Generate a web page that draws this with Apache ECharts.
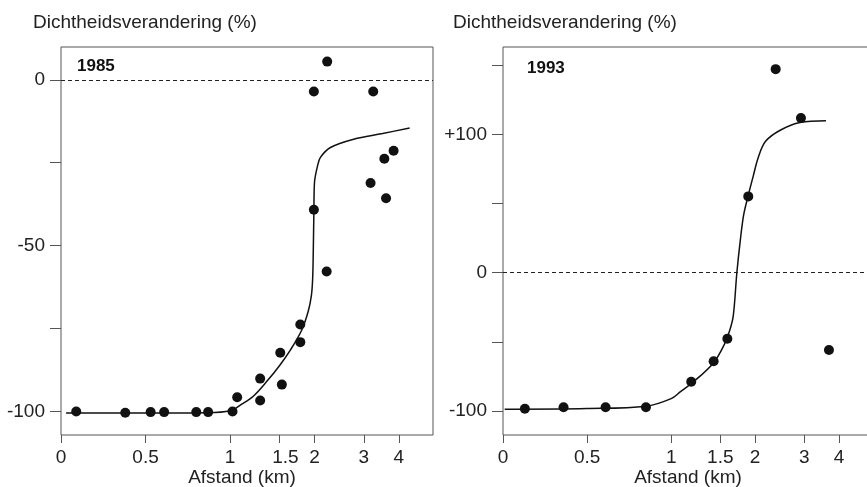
<!DOCTYPE html>
<html>
<head>
<meta charset="utf-8">
<script src="https://cdn.jsdelivr.net/npm/echarts@6/dist/echarts.min.js"></script>
<style>
  html, body { margin: 0; padding: 0; background: #fff; }
  #chart { width: 867px; height: 487px; }
</style>
</head>
<body>
<div id="chart"></div>
<script>
// Observed density change (%) against distance (km), 1985 survey
const dist1985   = [0.09, 0.38, 0.53, 0.61, 0.80, 0.87, 1.02, 1.06, 1.28, 1.28, 1.51, 1.53, 1.78, 1.78, 1.99, 2.21, 1.99, 2.22, 3.24, 3.17, 3.55, 3.60, 3.83];
const change1985 = [-100, -100.4, -100.2, -100.2, -100.2, -100.2, -100, -95.7, -90.1, -96.7, -82.3, -91.9, -73.8, -79.1, -39.2, -57.8, -3.5, 5.5, -3.5, -31.1, -23.8, -35.7, -21.4];

// Fitted curve, 1985
const fitDist1985   = [0.03, 0.5, 0.85, 1.0, 1.1, 1.21, 1.35, 1.5, 1.64, 1.8, 1.9, 1.95, 1.97, 1.98, 1.99, 2.0, 2.05, 2.1, 2.28, 2.76, 3.5, 4.37];
const fitChange1985 = [-100.5, -100.5, -100.4, -99.8, -97.8, -95.4, -91, -86.2, -81.5, -75.5, -69.8, -65, -60, -52, -40, -31, -26, -23.4, -20.4, -17.9, -16.2, -14.5];

// Observed density change (%) against distance (km), 1993 survey
const dist1993   = [0.13, 0.36, 0.61, 0.85, 1.18, 1.42, 1.59, 1.89, 2.37, 2.92, 3.68];
const change1993 = [-98.3, -97.3, -97.3, -97.3, -78.8, -64.0, -47.7, 55.2, 147.2, 111.8, -55.9];

// Fitted curve, 1993
const fitDist1993   = [0.01, 0.5, 0.85, 1.0, 1.08, 1.2, 1.42, 1.55, 1.62, 1.67, 1.72, 1.77, 1.82, 1.89, 1.97, 2.05, 2.18, 2.46, 2.9, 3.59];
const fitChange1993 = [-98.7, -98.2, -96.5, -91, -86, -79, -65, -52, -42, -31, 0, 23.6, 42, 56, 70, 83, 95, 103, 108.6, 109.8];

// Axis ticks
const xTicks      = [0, 0.5, 1, 1.5, 2, 3, 4];
const yTicks1985  = [-100, -75, -50, -25, 0];
const yLabels1985 = [-100, -50, 0];
const yTicks1993  = [-100, -50, 0, 50, 100, 150];
const yLabels1993 = [-100, 0, 100];

// Distance axis: linear up to 1 km, logarithmic beyond
const LOG_GAIN = 1.658;
function axisPos(km) { return km <= 1 ? km : 1 + LOG_GAIN * Math.log10(km); }

function pairs(xs, ys) { return xs.map((x, i) => [axisPos(x), ys[i]]); }

const FONT = 'Liberation Sans, Arial, sans-serif';
const INK = '#111';
const FRAME = '#555';

function tickAt(value) {
  return xTicks.find(k => Math.abs(axisPos(k) - value) < 1e-6);
}

// the 1985 panel nudges "1.5" right so it clears the "2"
function xLabelNudged(value) {
  const t = tickAt(value);
  if (t === undefined) return '';
  return t === 1.5 ? '{n|1.5}' : String(t);
}
function xLabelPlain(value) {
  const t = tickAt(value);
  return t === undefined ? '' : String(t);
}

function xAxisFor(gridIndex, namePad, fmt) {
  return {
    type: 'value', gridIndex, min: 0, max: 2.2,
    axisLine: { show: false, onZero: false },
    splitLine: { show: false },
    axisTick: { show: true, length: 8, customValues: xTicks.map(axisPos),
                lineStyle: { color: FRAME, width: 1 } },
    axisLabel: { show: true, customValues: xTicks.map(axisPos), formatter: fmt,
                 margin: 13, fontSize: 19, color: '#222', fontFamily: FONT,
                 rich: { n: { fontSize: 19, color: '#222', fontFamily: FONT, padding: [0, 0, 0, 12] } } },
    name: 'Afstand (km)', nameLocation: 'middle', nameGap: 33, nameMoveOverlap: false,
    nameTextStyle: { fontSize: 19, color: '#222', fontFamily: FONT, padding: namePad }
  };
}

function yAxisFor(gridIndex, min, max, ticks, labels, fmt) {
  return {
    type: 'value', gridIndex, min, max,
    axisLine: { show: false, onZero: false },
    splitLine: { show: false },
    axisTick: { show: true, length: 11, customValues: ticks,
                lineStyle: { color: FRAME, width: 1 } },
    axisLabel: { show: true, customValues: labels, formatter: fmt,
                 margin: 16, fontSize: 19, color: '#222', fontFamily: FONT }
  };
}

const zeroLine = {
  silent: true, symbol: ['none', 'none'], animation: false,
  label: { show: false },
  lineStyle: { type: [4, 3], color: '#222', width: 1 },
  data: [{ yAxis: 0 }]
};

function fitSeries(idx, xs, ys) {
  return {
    type: 'line', xAxisIndex: idx, yAxisIndex: idx, data: pairs(xs, ys),
    showSymbol: false, smooth: 0.35, z: 2,
    lineStyle: { color: '#111', width: 1.5 }, markLine: zeroLine
  };
}

function dotSeries(idx, xs, ys) {
  return {
    type: 'scatter', xAxisIndex: idx, yAxisIndex: idx, data: pairs(xs, ys),
    symbolSize: 10, itemStyle: { color: INK, opacity: 1 }, z: 3
  };
}

const chart = echarts.init(document.getElementById('chart'), null, { renderer: 'canvas' });

chart.setOption({
  animation: false,
  backgroundColor: '#fff',
  grid: [
    { left: 61, top: 47, width: 372, height: 388, show: true, outerBoundsMode: 'none',
      containLabel: false, borderColor: FRAME, borderWidth: 1, backgroundColor: 'transparent' },
    { left: 503, top: 47, width: 370, height: 388, show: true, outerBoundsMode: 'none',
      containLabel: false, borderColor: FRAME, borderWidth: 1, backgroundColor: 'transparent' }
  ],
  xAxis: [ xAxisFor(0, [0, 10, 0, 0], xLabelNudged), xAxisFor(1, 0, xLabelPlain) ],
  yAxis: [
    yAxisFor(0, -107.1, 9.9, yTicks1985, yLabels1985, v => String(v)),
    yAxisFor(1, -117.3, 163.2, yTicks1993, yLabels1993, v => (v > 0 ? '+' + v : String(v)))
  ],
  graphic: [
    { type: 'text', x: 33, y: 23, silent: true,
      style: { text: 'Dichtheidsverandering (%)', fill: '#222', font: '19px ' + FONT,
               textVerticalAlign: 'middle' } },
    { type: 'text', x: 453, y: 23, silent: true,
      style: { text: 'Dichtheidsverandering (%)', fill: '#222', font: '19px ' + FONT,
               textVerticalAlign: 'middle' } },
    { type: 'text', x: 77, y: 66, silent: true,
      style: { text: '1985', fill: '#111', font: 'bold 17px ' + FONT,
               textVerticalAlign: 'middle' } },
    { type: 'text', x: 527, y: 68, silent: true,
      style: { text: '1993', fill: '#111', font: 'bold 17px ' + FONT,
               textVerticalAlign: 'middle' } }
  ],
  series: [
    fitSeries(0, fitDist1985, fitChange1985),
    dotSeries(0, dist1985, change1985),
    fitSeries(1, fitDist1993, fitChange1993),
    dotSeries(1, dist1993, change1993)
  ]
});
</script>
</body>
</html>
